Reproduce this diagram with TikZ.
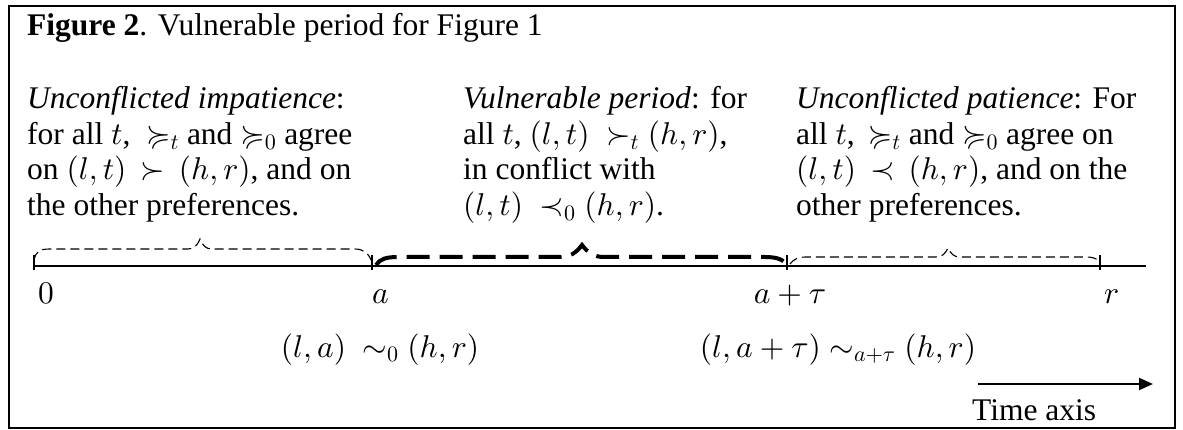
\documentclass[tikz,border=0pt]{standalone}
\DeclareFontShape{OML}{cmm}{m}{it}{<-> cmmi10}{}
\DeclareFontShape{OMS}{cmsy}{m}{n}{<-> cmsy10}{}
\DeclareFontShape{OMX}{cmex}{m}{n}{<-> cmex10}{}
\DeclareFontShape{OT1}{cmr}{m}{n}{<-> cmr10}{}
\DeclareFontFamily{U}{msa}{}
\DeclareFontShape{U}{msa}{m}{n}{<-> msam10}{}
\usepackage{amssymb}
\usepackage{fontspec}
\setmainfont{Liberation Serif}
\usetikzlibrary{arrows.meta}
\tikzset{
  txt/.style={anchor=base west, inner sep=0pt, font=\fontsize{31.5}{35.5}\selectfont},
  txtc/.style={anchor=base, inner sep=0pt, font=\fontsize{31.5}{35.5}\selectfont},
  thinbrace/.style={line width=1.1pt, dash pattern=on 9pt off 5pt},
  thickbrace/.style={line width=4pt, dash pattern=on 23pt off 10pt},
  tickmark/.style={line width=1.5pt},
}
\newcommand{\colbox}[1]{\begin{tabular}[t]{@{}l@{}}#1\end{tabular}}
\begin{document}
\begin{tikzpicture}[x=1pt,y=-1pt]
\useasboundingbox (0,0) rectangle (1183,430);
\draw[line width=1.5pt] (9,6) rectangle (1175,428);
% title
\node[txt] (title) at (27,36) {\textbf{Figure 2}. Vulnerable period for Figure 1};
% column 1
\node[txt] (col1) at (27,109) {\colbox{\textit{Unconflicted impatience}:\\
  for all $t$,\ \ $\succcurlyeq_t$ and $\succcurlyeq_0$ agree\\
  on $(l,t)\,\succ\,(h,r)$, and on\\
  the other preferences.}};
% column 2
\node[txt] (col2) at (463,109) {\colbox{\textit{Vulnerable period}: for\\
  all $t$, $(l,t)\ \succ_t (h,r)$,\\
  in conflict with\\
  $(l,t)\ \prec_0 (h,r)$.}};
% column 3
\node[txt] (col3) at (796,109) {\colbox{\textit{Unconflicted patience}: For\\
  all $t$,\ \,$\succcurlyeq_t$ and $\succcurlyeq_0$ agree on\\
  $(l,t)\,\prec\,(h,r)$, and on the\\
  other preferences.}};
% axis
\coordinate (t0) at (34,266);
\coordinate (ta) at (372,266);
\coordinate (tat) at (787,266);
\coordinate (tr) at (1100,266);
\coordinate (tend) at (1146,266);
\draw[line width=1.8pt] (t0) -- (tend);
\foreach \p in {t0,ta,tat,tr} \draw[tickmark] ([yshift=-4pt]\p) -- ([yshift=11pt]\p);
% thin brace left
\draw[thinbrace] (34,260) .. controls (36,251) and (40,249) .. (50,249) -- (188,249)
  .. controls (194,249) and (197,246) .. (200,239)
  .. controls (203,246) and (206,249) .. (212,249) -- (355,249)
  .. controls (364,249) and (369,254) .. (372,262);
% thick brace middle
\draw[thickbrace] (376,265) .. controls (380,259) and (386,257) .. (398,257) -- (560,257)
  .. controls (570,257) and (576,253) .. (582,245)
  .. controls (588,253) and (594,257) .. (604,257) -- (765,257)
  .. controls (778,257) and (784,260) .. (786,265);
% thin brace right
\draw[thinbrace] (790,264) .. controls (794,259) and (798,257) .. (806,257) -- (936,257)
  .. controls (942,257) and (945,254) .. (948,248)
  .. controls (951,254) and (954,257) .. (960,257) -- (1086,257)
  .. controls (1094,257) and (1098,259) .. (1100,263);
% tick labels
\node[txt] (l0) at (38,303) {$0$};
\node[txt] (la) at (372,303) {$a$};
\node[txtc] (lat) at (790,303) {$a+\tau$};
\node[txt] (lr) at (1104,303) {$r$};
% bottom labels
\node[txtc] (eq1) at (380,357) {$(l,a)\ \sim_0 (h,r)$};
\node[txtc] (eq2) at (838,357) {$(l,a+\tau) \sim_{a+\tau} (h,r)$};
% time axis arrow
\coordinate (ax1) at (978,384);
\coordinate (ax2) at (1153,384);
\draw[line width=2pt, -{Triangle[length=14pt,width=12pt]}] (ax1) -- (ax2);
\node[txt] (tl) at (972,420) {Time axis};
\end{tikzpicture}
\end{document}
